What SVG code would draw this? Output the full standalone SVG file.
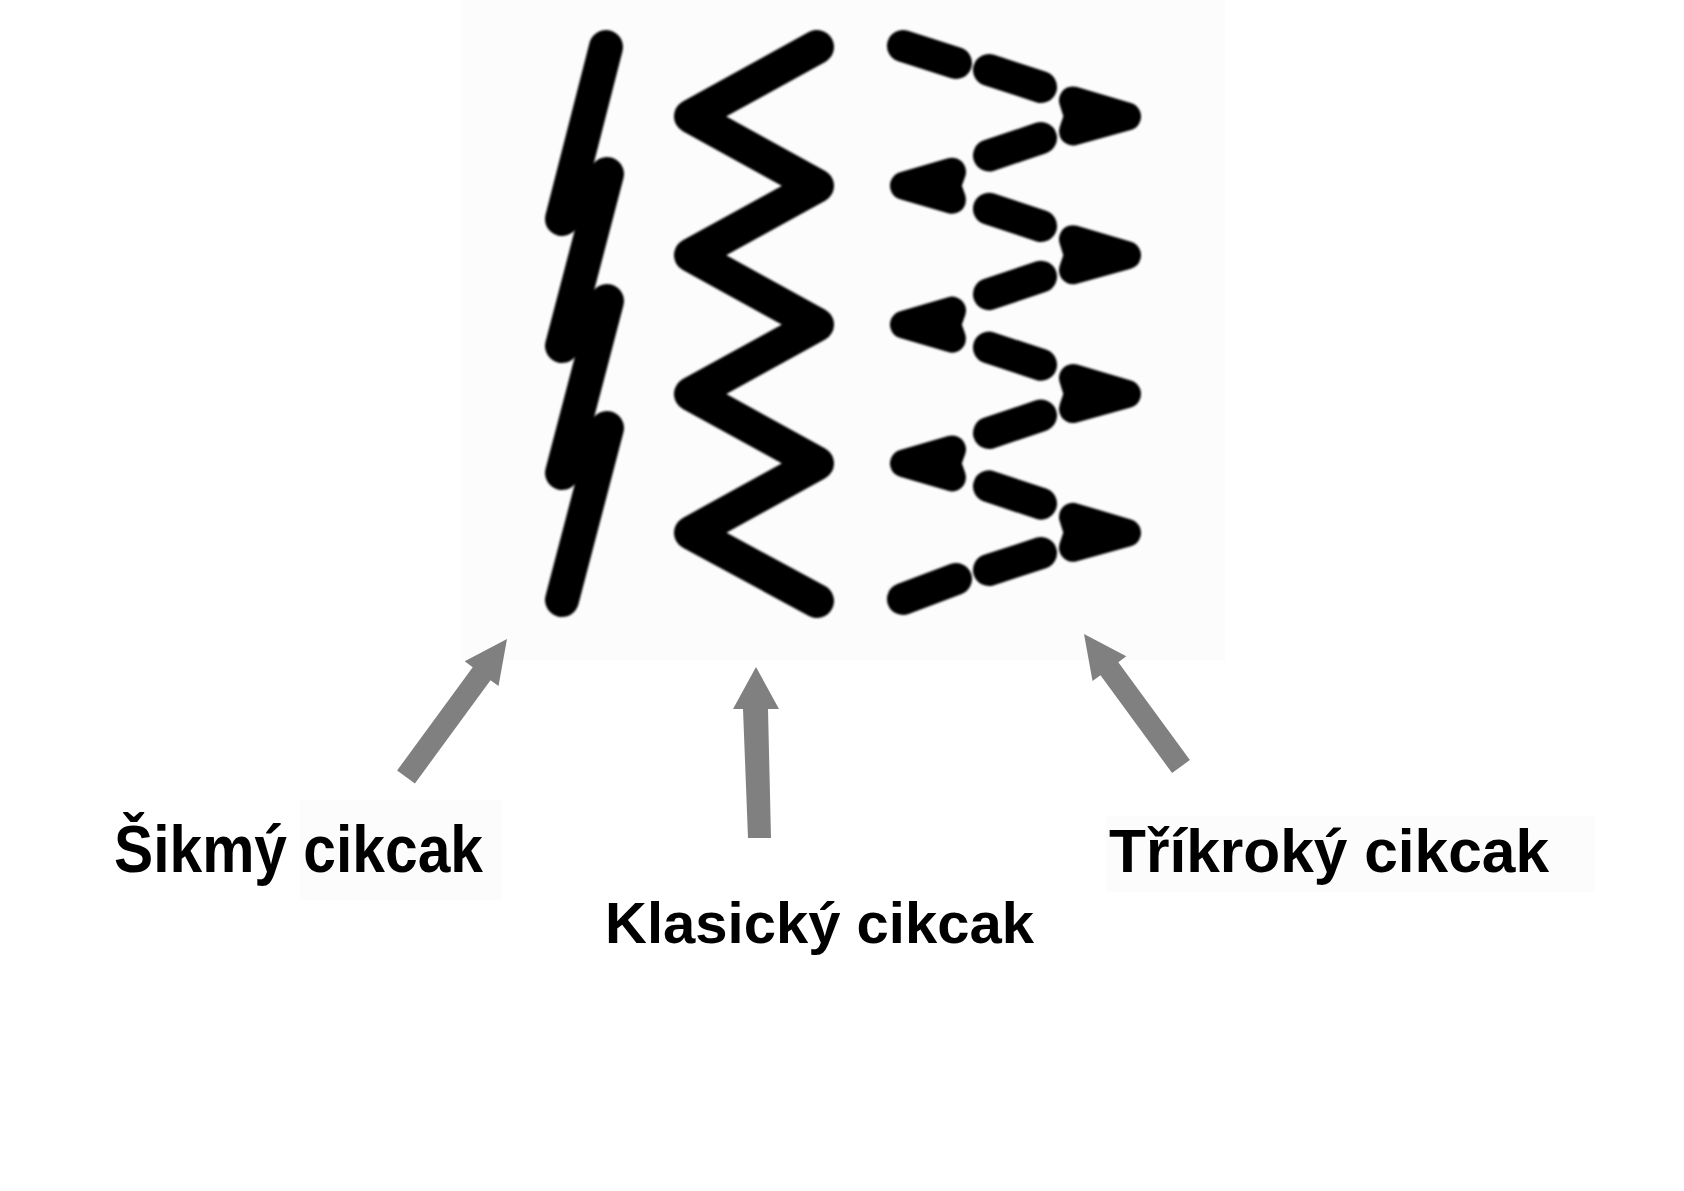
<svg xmlns="http://www.w3.org/2000/svg" width="1684" height="1191" viewBox="0 0 1684 1191">
<defs>
<style>
.ink{stroke:#000;stroke-linecap:round;stroke-linejoin:round;fill:none;stroke-width:34}
.dash{stroke:#000;stroke-linecap:round;fill:none;stroke-width:32}
.head{fill:#000;stroke:#000;stroke-width:28;stroke-linejoin:round}
.garrow{fill:#808080;stroke:none}
.lbl{font-family:"Liberation Sans",Arial,sans-serif;font-weight:bold;fill:#000}
</style>
<filter id="soft" filterUnits="userSpaceOnUse" x="0" y="0" width="1684" height="1191"><feGaussianBlur stdDeviation="1.1"/></filter>
</defs>
<rect width="1684" height="1191" fill="#fff"/>
<rect x="462" y="0" width="763" height="660" fill="#fcfcfc"/>
<rect x="300" y="800" width="202" height="100" fill="#fcfcfc"/>
<rect x="1106" y="816" width="489" height="76" fill="#fcfcfc"/>

<g id="sikmy-cikcak" filter="url(#soft)">
<line class="ink" x1="606" y1="47" x2="562" y2="219"/>
<line class="ink" x1="607" y1="174" x2="562" y2="346"/>
<line class="ink" x1="607" y1="301" x2="562" y2="473"/>
<line class="ink" x1="607" y1="428" x2="562" y2="600"/>
</g>

<g id="klasicky-cikcak" filter="url(#soft)">
<polyline class="ink" points="817,47 691,116.4 817,185.8 691,255.2 817,324.6 691,394 817,463.4 691,532.8 817,601"/>
</g>

<g id="trikroky-cikcak" filter="url(#soft)">
<line class="dash" x1="903" y1="46" x2="956" y2="63"/>
<line class="dash" x1="989" y1="70" x2="1041" y2="87"/>
<polygon class="head" points="1073,100.4 1127,116.4 1073,131.4 1078,116.4"/>
<line class="dash" x1="1041" y1="138" x2="989" y2="155.5"/>
<polygon class="head" points="952,171.8 904,185.8 952,199.8 947,185.8"/>
<line class="dash" x1="989" y1="208.8" x2="1041" y2="226"/>
<polygon class="head" points="1073,239.2 1127,255.2 1073,270.2 1078,255.2"/>
<line class="dash" x1="1041" y1="276.7" x2="989" y2="294.2"/>
<polygon class="head" points="952,310.6 904,324.6 952,338.6 947,324.6"/>
<line class="dash" x1="989" y1="347.6" x2="1041" y2="364.8"/>
<polygon class="head" points="1073,378 1127,394 1073,409 1078,394"/>
<line class="dash" x1="1041" y1="415.5" x2="989" y2="433"/>
<polygon class="head" points="952,449.4 904,463.4 952,477.4 947,463.4"/>
<line class="dash" x1="989" y1="486.4" x2="1041" y2="503.6"/>
<polygon class="head" points="1073,516.8 1127,532.8 1073,547.8 1078,532.8"/>
<line class="dash" x1="1041" y1="553" x2="989" y2="570"/>
<line class="dash" x1="956" y1="579" x2="903" y2="599"/>
</g>

<g id="connectors">
<polygon class="garrow" points="397.1,770.5 472.7,667.2 464.7,661.3 507,639 498.5,686.1 490.5,680.2 414.9,783.5"/>
<polygon class="garrow" points="748,838 743,709 733,709 756,667 779,709 768,709 771,838"/>
<polygon class="garrow" points="1172.1,773 1100.5,675.2 1092.5,681.1 1084,634 1126.3,656.3 1118.3,662.2 1189.9,760"/>
</g>

<g id="label-sikmy">
<text class="lbl" x="114" y="872" font-size="66" textLength="369" lengthAdjust="spacingAndGlyphs">Šikmý cikcak</text>
</g>
<g id="label-klasicky">
<text class="lbl" x="605" y="943" font-size="57.5" textLength="429" lengthAdjust="spacingAndGlyphs">Klasický cikcak</text>
</g>
<g id="label-trikroky">
<text class="lbl" x="1109" y="872" font-size="60.5" textLength="440" lengthAdjust="spacingAndGlyphs">Tříkroký cikcak</text>
</g>
</svg>
